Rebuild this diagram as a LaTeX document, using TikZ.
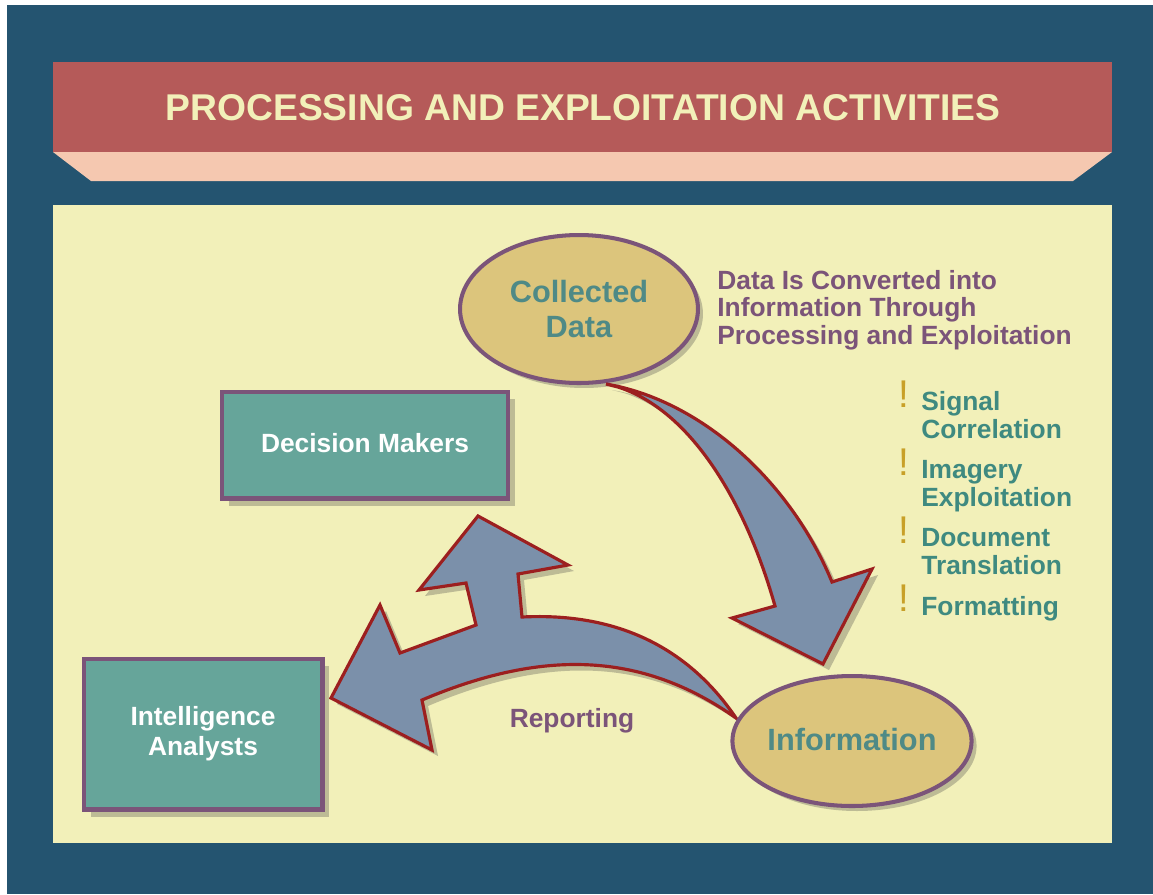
\documentclass[tikz,border=0pt]{standalone}
\usepackage{fontspec}
\setmainfont{Liberation Sans}
\usetikzlibrary{shapes.geometric}
\usetikzlibrary{shadows}

\definecolor{frameblue}{HTML}{245470}
\definecolor{titlered}{HTML}{B55A59}
\definecolor{titlepeach}{HTML}{F5C8B0}
\definecolor{cream}{HTML}{F2F0B9}
\definecolor{boxteal}{HTML}{66A59A}
\definecolor{rimpurple}{HTML}{7B5479}
\definecolor{ovalgold}{HTML}{DCC57C}
\definecolor{ovaltext}{HTML}{4F8A86}
\definecolor{arrowgrey}{HTML}{7B90AA}
\definecolor{arrowred}{HTML}{9C1F1F}
\definecolor{shade}{HTML}{BDBB95}
\definecolor{listteal}{HTML}{3F8A80}
\definecolor{markgold}{HTML}{C8A028}

\tikzset{
  actor/.style={draw=rimpurple, line width=2.3pt, fill=boxteal, text=white,
    font=\bfseries\fontsize{15}{17}\selectfont, align=center,
    drop shadow={shadow xshift=0.14cm, shadow yshift=-0.14cm, fill=shade, opacity=1}},
  oval/.style={ellipse, draw=rimpurple, line width=2.3pt, fill=ovalgold, text=ovaltext,
    font=\bfseries\fontsize{17.5}{20}\selectfont, align=center, inner sep=0pt,
    drop shadow={shadow xshift=0.1cm, shadow yshift=-0.1cm, fill=shade, opacity=1}},
  bigarrow/.style={draw=arrowred, line width=1.8pt, fill=arrowgrey, line join=miter},
  arrowshade/.style={fill=shade, shift={(6,6)}},
  listitem/.style={anchor=north west, inner sep=0pt, text=listteal, align=left,
    font=\bfseries\fontsize{15}{15.9}\selectfont},
  bang/.style={anchor=north west, inner sep=0pt, text=markgold, font=\fontsize{22}{22}\selectfont}
}

% block arrows
\newcommand{\convertpath}{(606,384) .. controls (700,400) and (790,480) .. (832,582)
  -- (872,569) -- (823,664) -- (732,618) -- (775,606)
  .. controls (745,500) and (690,410) .. (618,387) -- cycle}
\newcommand{\reportpath}{(736,718) .. controls (640,650) and (540,650) .. (422,700)
  -- (432,750) -- (331,698) -- (380,605) -- (400,653) -- (476,625)
  -- (466,583) -- (419,590) -- (478,516) -- (568,565) -- (518,574) -- (522,617)
  .. controls (620,612) and (690,650) .. (736,718) -- cycle}

\begin{document}
\begin{tikzpicture}[x=0.02cm, y=-0.02cm]
    \useasboundingbox (0,0) rectangle (1153,894);
    \fill[white] (0,0) rectangle (1153,894);
    \fill[frameblue] (7,5) rectangle (1153,894);

    % title band
    \fill[titlered] (53,62) rectangle (1112,152);
    \fill[titlepeach] (53,152) -- (1112,152) -- (1073,181) -- (91,181) -- cycle;
    \node[text=cream, font=\bfseries\fontsize{21.2}{23}\selectfont] (title) at (583,108) {PROCESSING AND EXPLOITATION ACTIVITIES};

    \fill[cream] (53,205) rectangle (1112,843);

    \node[oval, minimum width=4.76cm, minimum height=2.96cm] (collected) at (579,309) {Collected\\Data};

    \fill[arrowshade] \convertpath;
    \draw[bigarrow] \convertpath;
    \fill[arrowshade] \reportpath;
    \draw[bigarrow] \reportpath;

    \node[oval, minimum width=4.78cm, minimum height=2.6cm] (information) at (852,741) {\raisebox{1.5pt}{Information}};

    \node[actor, minimum width=5.72cm, minimum height=2.14cm] (deciders) at (365,445) {\raisebox{2pt}{Decision Makers}};
    \node[actor, minimum width=4.78cm, minimum height=3.02cm] (analysts) at (203,734) {Intelligence\\Analysts};

    \node[text=rimpurple, font=\bfseries\fontsize{15}{17}\selectfont] (reporting) at (572,721) {Reporting};

    \node[anchor=north west, inner sep=0pt, text=rimpurple, align=left,
        font=\bfseries\fontsize{15}{15.6}\selectfont] (converted) at (717,270)
        {Data Is Converted into\\Information Through\\Processing and Exploitation};

    % activities
    \node[bang] (b1) at (898,381) {!};
    \node[listitem] (signal) at (921,391) {Signal\\Correlation};
    \node[bang] (b2) at (898,449) {!};
    \node[listitem] (imagery) at (921,460) {Imagery\\Exploitation};
    \node[bang] (b3) at (898,517) {!};
    \node[listitem] (document) at (921,528) {Document\\Translation};
    \node[bang] (b4) at (898,585) {!};
    \node[listitem] (formatting) at (921,596) {Formatting};
\end{tikzpicture}
\end{document}
